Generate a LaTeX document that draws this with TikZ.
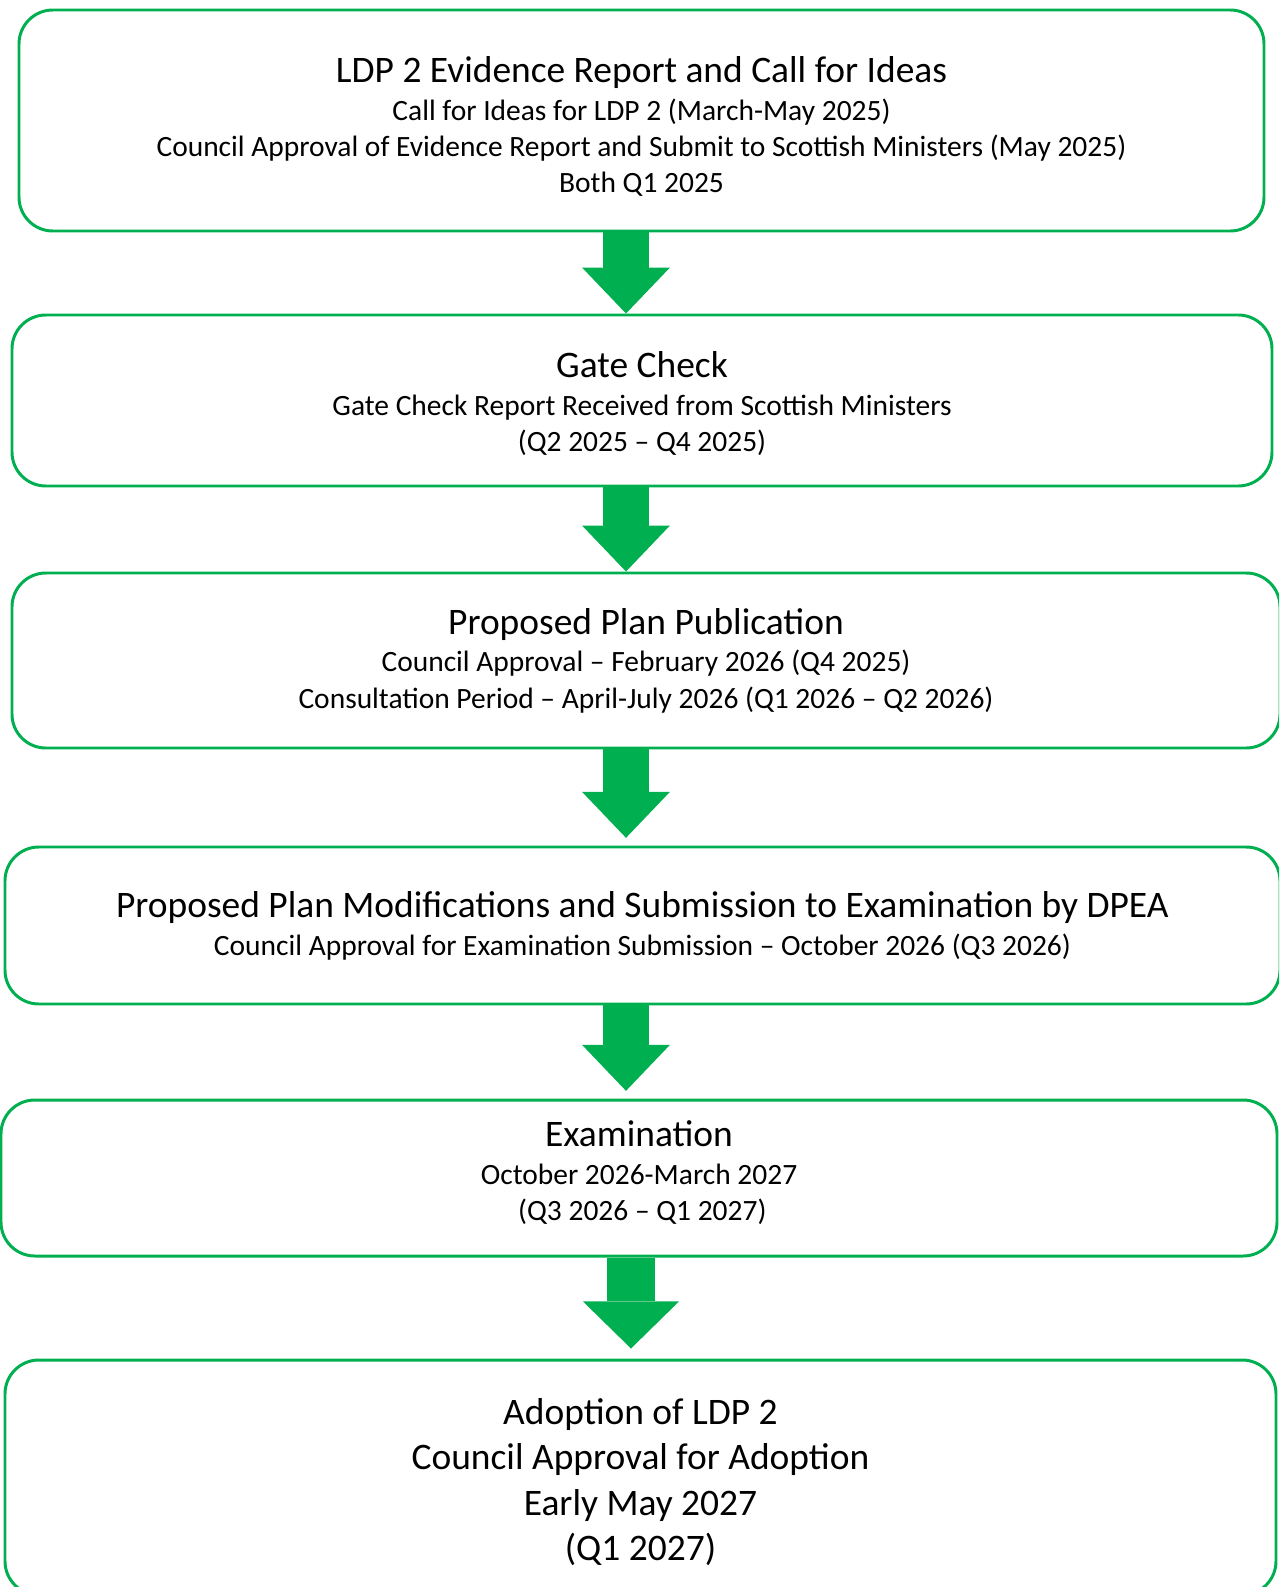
\documentclass[tikz,border=0pt]{standalone}
\usepackage{fontspec}
\setmainfont{Carlito}
\usepackage{tikz}
\usetikzlibrary{positioning,arrows.meta}
\definecolor{ldpgreen}{HTML}{00B050}
% invisible struts to move a block of text inside its box
\newcommand{\padtop}[1]{\raisebox{#1}{\vphantom{(}}}
\newcommand{\padbottom}[1]{\raisebox{-#1}{\vphantom{(}}}
\newcommand{\stagetitle}{\fontsize{13.85}{16.6}\selectfont}

\begin{document}
\begin{tikzpicture}[
    x=0.013cm, y=-0.013cm,
    stage/.style={rectangle, draw=ldpgreen, line width=1.1pt, rounded corners=0.44cm, align=center, inner sep=0pt, font=\fontsize{10.9}{13.4}\selectfont},
    bigstage/.style={stage, font=\fontsize{13.85}{16.8}\selectfont},
    flow/.style={draw=ldpgreen, line width=17pt, -{Triangle[width=32.5pt, length=17pt, line width=0pt]}},
    bigflow/.style={draw=ldpgreen, line width=18.1pt, -{Triangle[width=35.5pt, length=17.4pt, line width=0pt]}},
]
\useasboundingbox (0,0) rectangle (1279,1587);
\clip (0,0) rectangle (1279,1587);

% Stages of the plan
\node[stage, minimum width=16.185cm, minimum height=2.873cm] (evidence) at (641.5,120.5) {
    \padtop{6pt}{\stagetitle LDP 2 Evidence Report and Call for Ideas}\\[0.6pt]
    Call for Ideas for LDP 2 (March-May 2025)\\
    Council Approval of Evidence Report and Submit to Scottish Ministers (May 2025)\\
    Both Q1 2025
};

\node[stage, minimum width=16.38cm, minimum height=2.223cm] (gate) at (642,400.5) {
    \padtop{3.8pt}{\stagetitle Gate Check}\\[0.6pt]
    Gate Check Report Received from Scottish Ministers\\
    (Q2 2025 -- Q4 2025)
};

\node[stage, minimum width=16.484cm, minimum height=2.275cm] (proposed) at (646,660.5) {
    {\stagetitle Proposed Plan Publication}\\[0.6pt]
    Council Approval -- February 2026 (Q4 2025)\\
    Consultation Period -- April-July 2026 (Q1 2026 -- Q2 2026)
};

\node[stage, minimum width=16.575cm, minimum height=2.041cm] (mods) at (642.5,925.5) {
    {\stagetitle Proposed Plan Modifications and Submission to Examination by DPEA}\\[0.6pt]
    Council Approval for Examination Submission -- October 2026 (Q3 2026)
};

\node[stage, minimum width=16.588cm, minimum height=2.028cm] (exam) at (639,1178) {
    {\stagetitle Examination}\\[0.6pt]
    October 2026-March 2027\\
    \ (Q3 2026 -- Q1 2027)\padbottom{3.8pt}
};

\node[bigstage, minimum width=16.523cm, minimum height=3.055cm] (adopt) at (640.5,1477.5) {
    \padtop{3pt}Adoption of LDP 2\\
    Council Approval for Adoption\\
    Early May 2027\\
    (Q1 2027)
};

% Arrows between stages
\coordinate (axis) at (626,0);
\coordinate (axislast) at (631,0);
\draw[flow] (axis |- evidence.south) -- (axis |- gate.north);
\draw[flow] (axis |- gate.south) -- (axis |- proposed.north);
\draw[flow] (axis |- proposed.south) -- ([yshift=0.1cm]axis |- mods.north);
\draw[flow] (axis |- mods.south) -- ([yshift=0.1cm]axis |- exam.north);
\draw[bigflow] (axislast |- exam.south) -- ([yshift=0.13cm]axislast |- adopt.north);

\end{tikzpicture}
\end{document}
